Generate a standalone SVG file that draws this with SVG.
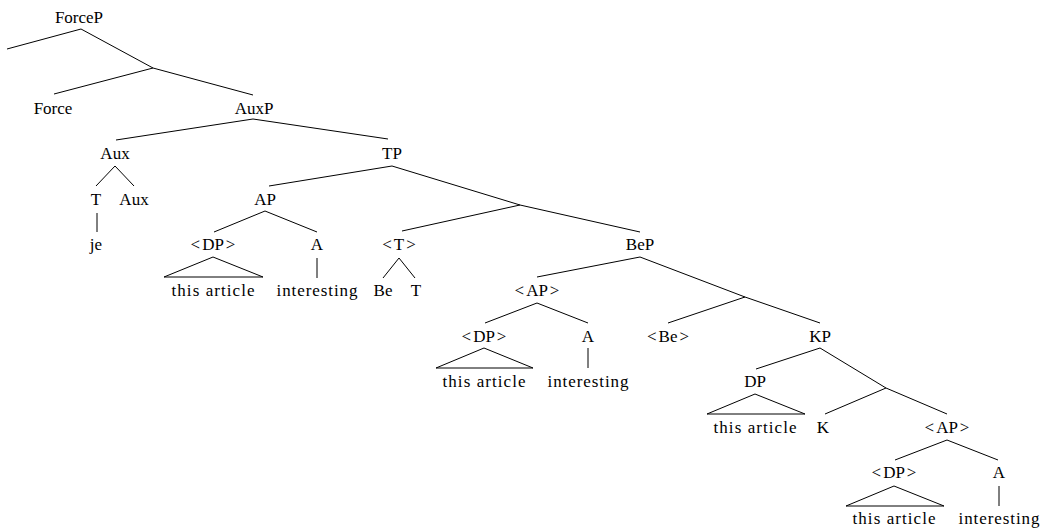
<svg xmlns="http://www.w3.org/2000/svg" width="1045" height="531" viewBox="0 0 1045 531">
<style>
text{font-family:'Liberation Serif','DejaVu Serif',serif;font-size:17px;fill:#000;text-anchor:middle}
.e line,.e polygon{stroke:#000;stroke-width:1;fill:none}
</style>
<rect width="1045" height="531" fill="#fff"/>
<g id="connectors" class="e">
<line x1="81" y1="29" x2="7" y2="49"/>
<line x1="81" y1="29" x2="153" y2="68"/>
<line x1="153" y1="68" x2="54" y2="94"/>
<line x1="153" y1="68" x2="253" y2="95"/>
<line x1="253" y1="119" x2="116" y2="140"/>
<line x1="253" y1="119" x2="388" y2="139"/>
<line x1="115" y1="166" x2="96" y2="186"/>
<line x1="115" y1="166" x2="134" y2="186"/>
<line x1="97" y1="213" x2="97" y2="232"/>
<line x1="392" y1="166" x2="269" y2="186"/>
<line x1="392" y1="166" x2="520" y2="205"/>
<line x1="520" y1="205" x2="402" y2="231"/>
<line x1="520" y1="205" x2="640" y2="232"/>
<line x1="265" y1="211" x2="214" y2="232"/>
<line x1="265" y1="211" x2="317" y2="232"/>
<polygon points="213,257 164,277 263,277"/>
<line x1="317" y1="258" x2="317" y2="278"/>
<line x1="399" y1="258" x2="383" y2="278"/>
<line x1="399" y1="258" x2="415" y2="278"/>
<line x1="640" y1="257" x2="537" y2="277"/>
<line x1="640" y1="257" x2="745" y2="297"/>
<line x1="745" y1="297" x2="668" y2="323"/>
<line x1="745" y1="297" x2="820" y2="323"/>
<line x1="537" y1="303" x2="485" y2="323"/>
<line x1="537" y1="303" x2="588" y2="323"/>
<polygon points="484,348 436,368 533,368"/>
<line x1="588" y1="348" x2="588" y2="368"/>
<line x1="820" y1="348" x2="756" y2="369"/>
<line x1="820" y1="348" x2="886" y2="388"/>
<polygon points="755,394 707,414 805,414"/>
<line x1="886" y1="388" x2="825" y2="414"/>
<line x1="886" y1="388" x2="947" y2="414"/>
<line x1="947" y1="440" x2="895" y2="460"/>
<line x1="947" y1="440" x2="998" y2="460"/>
<polygon points="894,486 846,506 944,506"/>
<line x1="999" y1="486" x2="999" y2="506"/>
</g>
<g id="n-ForceP"><text x="79" y="23">ForceP</text></g>
<g id="n-Force"><text x="53" y="114">Force</text></g>
<g id="n-AuxP"><text x="254" y="114">AuxP</text></g>
<g id="n-Aux"><text x="115" y="159">Aux</text></g>
<g id="n-TP"><text x="392" y="159">TP</text></g>
<g id="n-T1"><text x="96" y="205">T</text></g>
<g id="n-Aux2"><text x="134" y="205">Aux</text></g>
<g id="n-AP"><text x="265" y="205">AP</text></g>
<g id="n-je"><text x="96" y="250">je</text></g>
<g id="n-DP1"><text x="213" y="250">&lt;<tspan dx="2">DP</tspan><tspan dx="2">&gt;</tspan></text></g>
<g id="n-A1"><text x="317" y="250">A</text></g>
<g id="n-Ttrace"><text x="399" y="250">&lt;<tspan dx="2">T</tspan><tspan dx="2">&gt;</tspan></text></g>
<g id="n-BeP"><text x="640" y="250">BeP</text></g>
<g id="n-art1"><text x="213" y="296" textLength="83">this article</text></g>
<g id="n-int1"><text x="317" y="296" textLength="81">interesting</text></g>
<g id="n-Be"><text x="383" y="296">Be</text></g>
<g id="n-T2"><text x="416" y="296">T</text></g>
<g id="n-AP2"><text x="537" y="296">&lt;<tspan dx="2">AP</tspan><tspan dx="2">&gt;</tspan></text></g>
<g id="n-DP2"><text x="484" y="342">&lt;<tspan dx="2">DP</tspan><tspan dx="2">&gt;</tspan></text></g>
<g id="n-A2"><text x="588" y="342">A</text></g>
<g id="n-Betrace"><text x="668" y="342">&lt;<tspan dx="2">Be</tspan><tspan dx="2">&gt;</tspan></text></g>
<g id="n-KP"><text x="820" y="342">KP</text></g>
<g id="n-art2"><text x="484" y="387" textLength="83">this article</text></g>
<g id="n-int2"><text x="588" y="387" textLength="81">interesting</text></g>
<g id="n-DP3"><text x="755" y="387">DP</text></g>
<g id="n-art3"><text x="755" y="433" textLength="83">this article</text></g>
<g id="n-K"><text x="823" y="433">K</text></g>
<g id="n-AP3"><text x="947" y="433">&lt;<tspan dx="2">AP</tspan><tspan dx="2">&gt;</tspan></text></g>
<g id="n-DP4"><text x="894" y="478">&lt;<tspan dx="2">DP</tspan><tspan dx="2">&gt;</tspan></text></g>
<g id="n-A3"><text x="999" y="478">A</text></g>
<g id="n-art4"><text x="894" y="524" textLength="83">this article</text></g>
<g id="n-int3"><text x="999" y="524" textLength="81">interesting</text></g>
</svg>
